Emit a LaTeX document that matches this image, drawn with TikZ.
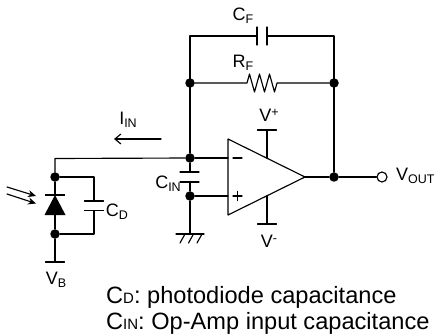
\documentclass[tikz,border=0pt]{standalone}
\usepackage{fontspec}
\setmainfont{Liberation Sans}
\usetikzlibrary{arrows.meta}
\newcommand{\lab}[2]{#1{\fontsize{12.5}{14}\selectfont\raisebox{-3.2pt}{#2}}}
\newcommand{\labup}[2]{#1{\fontsize{12.5}{14}\selectfont\raisebox{4.5pt}{#2}}}
\newcommand{\leg}[2]{#1{\fontsize{15}{16}\selectfont #2}}
\tikzset{
  wire/.style={line width=1.15pt,line cap=round,line join=round},
  dot/.style={circle,fill=black,draw=none,inner sep=0pt,minimum size=9.5pt},
  term/.style={circle,fill=white,draw=black,line width=1.15pt,inner sep=0pt,minimum size=10pt},
  lbl/.style={inner sep=0pt,font=\fontsize{18}{20}\selectfont},
  legend/.style={inner sep=0pt,anchor=base west,font=\fontsize{23.6}{26}\selectfont}
}
\begin{document}
\begin{tikzpicture}[x=1pt,y=-1pt]
\useasboundingbox (0,0) rectangle (435,336);
% junctions
\node[dot] (nA) at (190,83) {};
\node[dot] (nB) at (334,83) {};
\node[dot] (nC) at (190,158) {};
\node[dot] (nD) at (190,196) {};
\node[dot] (nE) at (334,177) {};
\node[dot] (nF) at (55,177) {};
\node[dot] (nG) at (55,234) {};
\node[term] (out) at (382,177) {};
% coordinates
\coordinate (tl) at (190,36);
\coordinate (tr) at (334,36);
\coordinate (cf1) at (257,36);
\coordinate (cf2) at (267,36);
\coordinate (rf1) at (247,83);
\coordinate (rf2) at (277,83);
\coordinate (inv) at (228,158);
\coordinate (non) at (228,196);
\coordinate (apex) at (305,177);
\coordinate (ul) at (55,158.5);
\coordinate (cin1) at (190,172);
\coordinate (cin2) at (190,182);
\coordinate (gnd) at (190,234);
\coordinate (dk) at (55,195);
\coordinate (da) at (55,215);
\coordinate (vb) at (55,262);
\coordinate (cd1) at (94,201);
\coordinate (cd2) at (94,210.5);
\coordinate (vp) at (267,130);
\coordinate (vpa) at (267,158);
\coordinate (vm) at (267,224);
\coordinate (vma) at (267,196);
% feedback
\draw[wire] (nC) -- (tl) -- (cf1);
\draw[wire] (cf2) -- (tr) -- (nE);
\draw[wire] ([yshift=-9pt]cf1) -- ([yshift=9pt]cf1);
\draw[wire] ([yshift=-9pt]cf2) -- ([yshift=9pt]cf2);
\draw[wire] (nA) -- (rf1) -- ++(2.5,-9) -- ++(5,18) -- ++(5,-18) -- ++(5,18) -- ++(5,-18) -- ++(5,18) -- (rf2) -- (nB);
% op amp
\draw[wire] (228,139) -- (apex) -- (228,215) -- cycle;
\draw[wire] (nC) -- (inv);
\draw[wire] (nD) -- (non);
\draw[wire] (apex) -- (nE) -- (out);
\draw[wire] (vp) -- (vpa);
\draw[wire] (vm) -- (vma);
\draw[wire] (257.5,130) -- (276.5,130);
\draw[wire] (257.5,224) -- (276.5,224);
\draw[wire] (233,158) -- (242,158);
\draw[wire] (233,196) -- (242,196) (237.5,191.5) -- (237.5,200.5);
% input
\draw[wire] (nC) -- (ul) -- (nF);
\draw[wire] (nC) -- (cin1);
\draw[wire] (cin2) -- (nD) -- (gnd);
\draw[wire] (180,172) -- (199,172);
\draw[wire] (180,182) -- (199,182);
\draw[wire] (176,234) -- (204,234);
\draw[wire] (185,234) -- (180,243) (193.5,234) -- (188.5,243) (202,234) -- (197,243);
% diode
\draw[wire] (nF) -- (dk);
\draw[wire] (da) -- (nG) -- (vb);
\fill (55,195) -- (65.5,215) -- (44.5,215) -- cycle;
\draw[line width=2.6pt] (45,195) -- (65,195);
\draw[wire] (45.5,262) -- (64.5,262);
% CD
\draw[wire] (nF) -- (94,177) -- (cd1);
\draw[wire] (cd2) -- (94,234) -- (nG);
\draw[wire] (84.5,201) -- (103.5,201);
\draw[wire] (84.5,210.5) -- (103.5,210.5);
% light arrows
\coordinate (l1) at (7,187);
\coordinate (l1e) at (36,196);
\coordinate (l2) at (7,194);
\coordinate (l2e) at (36,203.5);
\draw[wire,-{Stealth[length=8pt,width=7pt]}] (l1) -- (l1e);
\draw[wire,-{Stealth[length=8pt,width=7pt]}] (l2) -- (l2e);
% current arrow
\coordinate (i1) at (161,139);
\coordinate (i2) at (114,139);
\draw[wire,-{Straight Barb[length=6pt,width=10pt]}] (i1) -- (i2);
% labels
\node[lbl] (lCF) at (243,16) {\lab{C}{F}};
\node[lbl] (lRF) at (243,63) {\lab{R}{F}};
\node[lbl] (lII) at (128,120) {\lab{I}{IN}};
\node[lbl] (lCI) at (168,184) {\lab{C}{IN}};
\node[lbl] (lCD) at (117,212) {\lab{C}{D}};
\node[lbl] (lVB) at (56,280) {\lab{V}{B}};
\node[lbl] (lVP) at (269,115) {\labup{V}{+}};
\node[lbl] (lVM) at (269,241) {\labup{V}{-}};
\node[lbl,anchor=west] (lVO) at (396,176) {\lab{V}{OUT}};
\node[legend] (t1) at (106,303) {\leg{C}{D}: photodiode capacitance};
\node[legend] (t2) at (106,329) {\leg{C}{IN}: Op-Amp input capacitance};
\end{tikzpicture}
\end{document}
